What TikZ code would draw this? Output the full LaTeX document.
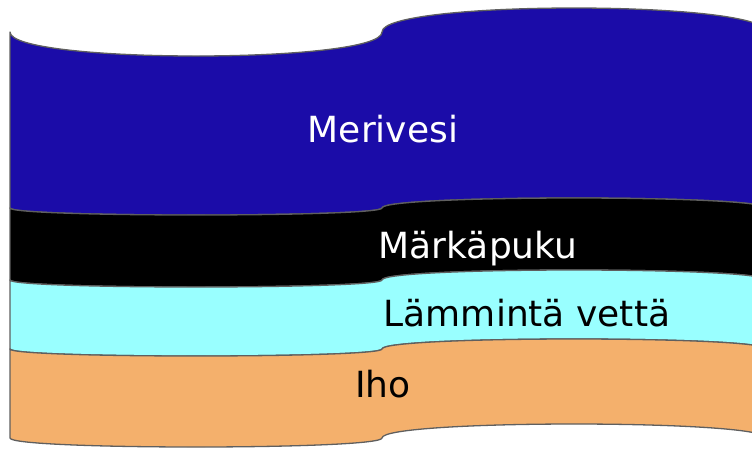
\documentclass[tikz,border=0pt]{standalone}
\usepackage{fontspec}
\setmainfont{DejaVu Sans}
\usepackage{tikz}
\definecolor{seablue}{RGB}{27,12,168}
\definecolor{watercyan}{RGB}{153,255,255}
\definecolor{skinorange}{RGB}{244,176,108}
\definecolor{edgegray}{RGB}{95,95,95}
% one wavy layer: top y, top dip, top rise, bottom y, bottom dip, bottom rise
\newcommand{\wavelayer}[7]{%
  \filldraw[layer, fill=#1]
    (10,#2) .. controls (10,{#2+#3*4/3}) and (382,{#2+#3*4/3}) .. (382,#2)
            .. controls (382,{#2-#4*4/3}) and (766,{#2-#4*4/3}) .. (766,#2)
    -- (766,#5)
            .. controls (766,{#5-#7*4/3}) and (382,{#5-#7*4/3}) .. (382,#5)
            .. controls (382,{#5+#6*4/3}) and (10,{#5+#6*4/3}) .. (10,#5)
    -- cycle;}

\begin{document}
\begin{tikzpicture}[
    x=1pt, y=-1pt,
    layer/.style={draw=edgegray, line width=1.3pt, line join=round},
    label/.style={font=\fontsize{36}{43}\selectfont, anchor=base, inner sep=0pt},
]
    \useasboundingbox (0,0) rectangle (752,448);
    \clip (0,0) rectangle (752,448);
    \wavelayer{seablue}{32}{24}{24}{208}{7}{10}
    \wavelayer{black}{208}{7}{10}{280}{7}{10}
    \wavelayer{watercyan}{280}{7}{10}{349}{7}{10}
    \wavelayer{skinorange}{349}{7}{10}{438}{9}{14}

    \node[label, text=white] (sea) at (383,142) {Merivesi};
    \node[label, text=white] (suit) at (478,258) {Märkäpuku};
    \node[label] (water) at (527,326) {Lämmintä vettä};
    \node[label] (skin) at (383,397) {Iho};
\end{tikzpicture}
\end{document}
